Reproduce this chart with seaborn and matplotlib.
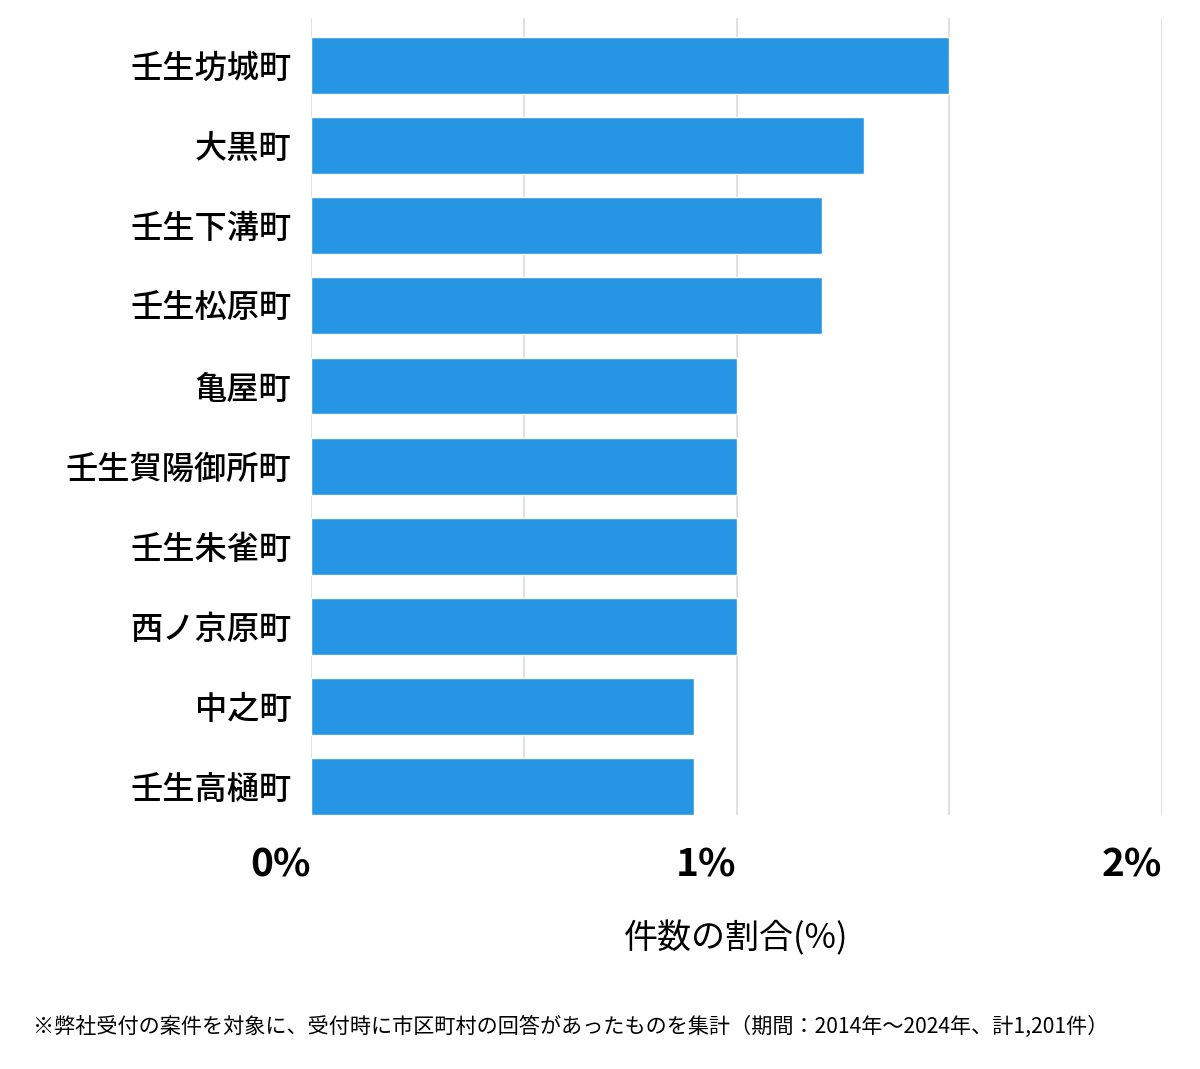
import matplotlib
matplotlib.use("Agg")
import matplotlib.pyplot as plt
import pandas as pd
import seaborn as sns

# Data
towns = ['壬生坊城町', '大黒町', '壬生下溝町', '壬生松原町', '亀屋町',
         '壬生賀陽御所町', '壬生朱雀町', '西ノ京原町', '中之町', '壬生高樋町']
shares = [1.5, 1.3, 1.2, 1.2, 1.0, 1.0, 1.0, 1.0, 0.9, 0.9]
grid_ticks = [0, 0.5, 1, 1.5, 2]
tick_labels = ['0%', '', '1%', '', '2%']

df = pd.DataFrame({'town': towns, 'share': shares})

sns.set_style('white')
plt.rcParams['font.family'] = ['Noto Sans CJK JP', 'DejaVu Sans']
plt.rcParams['text.color'] = 'black'
plt.rcParams['xtick.color'] = 'black'
plt.rcParams['ytick.color'] = 'black'
plt.rcParams['axes.labelcolor'] = 'black'

fig = plt.figure(figsize=(12, 10.69), dpi=100)
ax = fig.add_axes([0.2592, 0.2376, 0.7091, 0.7456])

sns.barplot(data=df, x='share', y='town', orient='h', color='#2695e4',
            saturation=1, width=0.71, ax=ax, zorder=3)

ax.set_xlim(0, 2)
ax.set_ylim(9.35, -0.59)
ax.set_xticks(grid_ticks)
ax.set_xticklabels(tick_labels)
for lbl in ax.get_xticklabels():
    lbl.set_horizontalalignment('right')
    lbl.set_fontweight('bold')
    lbl.set_fontsize(28)
ax.tick_params(axis='x', length=0, pad=22)
ax.tick_params(axis='y', length=0, pad=14, labelsize=23.2)
for lbl in ax.get_yticklabels():
    lbl.set_fontweight('medium')

ax.grid(axis='x', color='#dddddd', linewidth=1.3, zorder=0)
ax.set_axisbelow(True)
for s in ax.spines.values():
    s.set_visible(False)

ax.set_ylabel('')
ax.set_xlabel('件数の割合(%)', fontsize=24.5, labelpad=26)

fig.text(0.0275, 0.039, '※弊社受付の案件を対象に、受付時に市区町村の回答があったものを集計（期間：2014年～2024年、計1,201件）',
         fontsize=15.2, ha='left', va='center')

fig.savefig('out.png', dpi=100, facecolor='white')
